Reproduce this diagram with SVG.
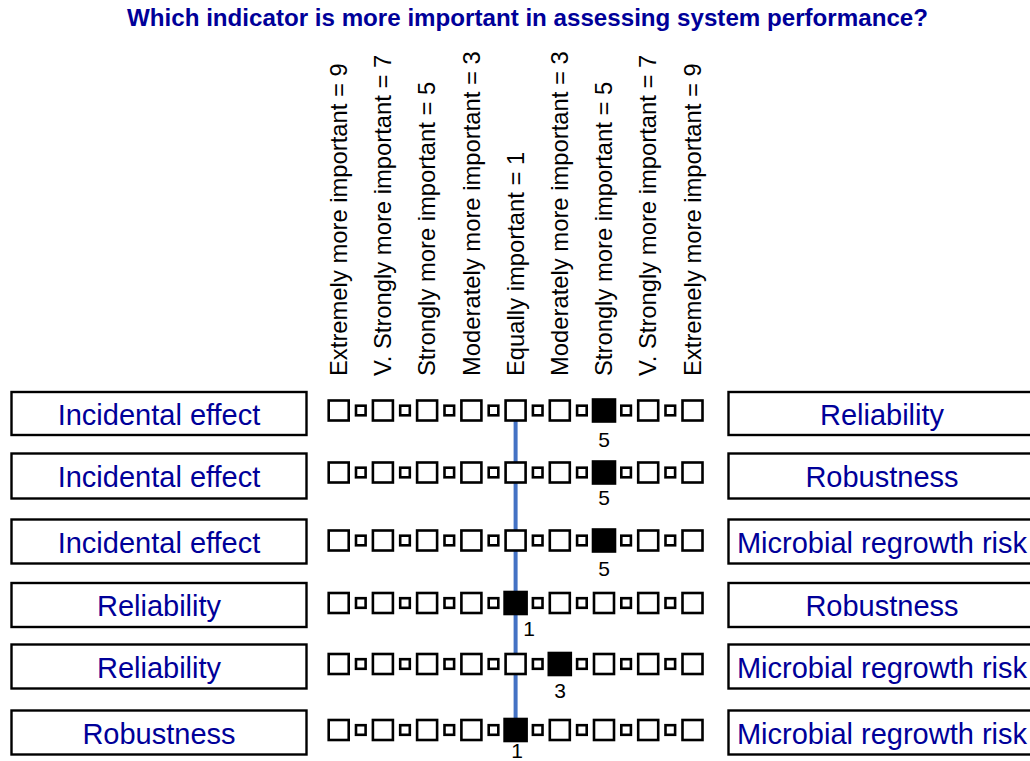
<svg xmlns="http://www.w3.org/2000/svg" xmlns:xlink="http://www.w3.org/1999/xlink" width="1030" height="761" viewBox="0 0 1030 761">
<style>
.title{font-family:"Liberation Sans",Arial,sans-serif;font-weight:bold;font-size:23px;fill:#000099}
.lab{font-family:"Liberation Sans",Arial,sans-serif;font-size:23.8px;fill:#000}
.box{fill:#fff;stroke:#000;stroke-width:2.4}
.bt{font-family:"Liberation Sans",Arial,sans-serif;font-size:29px;fill:#000099;text-anchor:middle}
.b{fill:#fff;stroke:#000;stroke-width:2.6}
.f{fill:#000;stroke:#000;stroke-width:2.6}
.num{font-family:"Liberation Sans",Arial,sans-serif;font-size:21px;fill:#000;text-anchor:middle}
.conn{stroke:#4472C4;stroke-width:4;fill:none}
</style>
<defs>
<rect id="big" x="-10" y="-10" width="20" height="20" class="b"/>
<rect id="sm" x="-4.8" y="-4.8" width="9.6" height="9.6" class="b"/>
<rect id="fill" x="-11" y="-11" width="22" height="22" class="f"/>
<g id="scale">
<use xlink:href="#big" x="338.7"/><use xlink:href="#sm" x="360.8"/>
<use xlink:href="#big" x="382.9"/><use xlink:href="#sm" x="405.0"/>
<use xlink:href="#big" x="427.1"/><use xlink:href="#sm" x="449.3"/>
<use xlink:href="#big" x="471.4"/><use xlink:href="#sm" x="493.5"/>
<use xlink:href="#big" x="515.6"/><use xlink:href="#sm" x="537.7"/>
<use xlink:href="#big" x="559.8"/><use xlink:href="#sm" x="581.9"/>
<use xlink:href="#big" x="604.0"/><use xlink:href="#sm" x="626.1"/>
<use xlink:href="#big" x="648.2"/><use xlink:href="#sm" x="670.3"/>
<use xlink:href="#big" x="692.5"/>
</g>
</defs>
<rect width="1030" height="761" fill="#fff"/>
<text id="title" class="title" x="127" y="25.5" textLength="801" lengthAdjust="spacingAndGlyphs">Which indicator is more important in assessing system performance?</text>
<g id="scale-labels">
<text class="lab" transform="translate(347,376) rotate(-90)">Extremely more important = 9</text>
<text class="lab" transform="translate(391.2,376) rotate(-90)">V. Strongly more important = 7</text>
<text class="lab" transform="translate(435.4,376) rotate(-90)">Strongly more important = 5</text>
<text class="lab" transform="translate(479.6,376) rotate(-90)">Moderately more important = 3</text>
<text class="lab" transform="translate(523.8,376) rotate(-90)">Equally important = 1</text>
<text class="lab" transform="translate(568,376) rotate(-90)">Moderately more important = 3</text>
<text class="lab" transform="translate(612.2,376) rotate(-90)">Strongly more important = 5</text>
<text class="lab" transform="translate(656.4,376) rotate(-90)">V. Strongly more important = 7</text>
<text class="lab" transform="translate(700.6,376) rotate(-90)">Extremely more important = 9</text>
</g>
<g id="connectors">
<line class="conn" x1="515.6" y1="421" x2="515.6" y2="725"/>
</g>
<g id="row1">
<rect class="box" x="11.5" y="392" width="295" height="43"/>
<text class="bt" x="159" y="424.5">Incidental effect</text>
<rect class="box" x="728.5" y="392" width="320" height="43"/>
<text class="bt" x="882" y="424.5">Reliability</text>
<use xlink:href="#scale" y="410.5"/>
<use xlink:href="#fill" x="604" y="410.5"/>
<text class="num" x="604" y="447">5</text>
</g>
<g id="row2">
<rect class="box" x="11.5" y="453.5" width="295" height="45"/>
<text class="bt" x="159" y="486.5">Incidental effect</text>
<rect class="box" x="728.5" y="453.5" width="320" height="45"/>
<text class="bt" x="882" y="486.5">Robustness</text>
<use xlink:href="#scale" y="472.5"/>
<use xlink:href="#fill" x="604" y="472.5"/>
<text class="num" x="604" y="504.5">5</text>
</g>
<g id="row3">
<rect class="box" x="11.5" y="519.5" width="295" height="44"/>
<text class="bt" x="159" y="552.5">Incidental effect</text>
<rect class="box" x="728.5" y="519.5" width="320" height="44"/>
<text class="bt" x="882" y="552.5">Microbial regrowth risk</text>
<use xlink:href="#scale" y="540.5"/>
<use xlink:href="#fill" x="604" y="540.5"/>
<text class="num" x="604" y="575.5">5</text>
</g>
<g id="row4">
<rect class="box" x="11.5" y="583" width="295" height="44"/>
<text class="bt" x="159" y="616">Reliability</text>
<rect class="box" x="728.5" y="583" width="320" height="44"/>
<text class="bt" x="882" y="616">Robustness</text>
<use xlink:href="#scale" y="603"/>
<use xlink:href="#fill" x="515.6" y="603"/>
<text class="num" x="529" y="635.5">1</text>
</g>
<g id="row5">
<rect class="box" x="11.5" y="644.5" width="295" height="44"/>
<text class="bt" x="159" y="677.5">Reliability</text>
<rect class="box" x="728.5" y="644.5" width="320" height="44"/>
<text class="bt" x="882" y="677.5">Microbial regrowth risk</text>
<use xlink:href="#scale" y="664"/>
<use xlink:href="#fill" x="559.8" y="664"/>
<text class="num" x="560" y="697.5">3</text>
</g>
<g id="row6">
<rect class="box" x="11.5" y="710.5" width="295" height="44"/>
<text class="bt" x="159" y="743.5">Robustness</text>
<rect class="box" x="728.5" y="710.5" width="320" height="44"/>
<text class="bt" x="882" y="743.5">Microbial regrowth risk</text>
<use xlink:href="#scale" y="730"/>
<use xlink:href="#fill" x="515.6" y="730"/>
<text class="num" x="517" y="757.5">1</text>
</g>
</svg>
